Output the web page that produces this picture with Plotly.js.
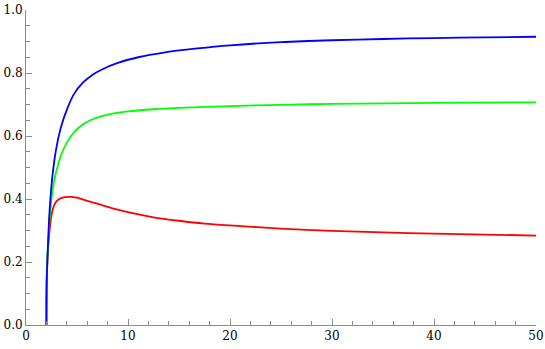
<!DOCTYPE html>
<html>
<head>
<meta charset="utf-8">
<script src="https://cdn.plot.ly/plotly-3.0.1.min.js"></script>
<style>
  html, body { margin: 0; padding: 0; background: white; }
  #chart { width: 545px; height: 349px; }
</style>
</head>
<body>
<div id="chart"></div>
<script>
/* values */
const BLUE_X  = [2, 2.03, 2.15, 2.3, 2.55, 2.94, 3.4, 4.0, 4.7, 5.6, 6.5, 7.5, 9, 11, 13.5, 16.8, 20, 25, 30, 35, 40, 45, 50];
const BLUE_Y  = [0, 0.14, 0.25, 0.356, 0.46, 0.556, 0.625, 0.683, 0.733, 0.770, 0.794, 0.812, 0.832, 0.850, 0.865, 0.878, 0.888, 0.898, 0.904, 0.908, 0.911, 0.913, 0.915];

const GREEN_X = [2, 2.03, 2.15, 2.3, 2.5, 2.75, 3.2, 3.7, 4.7, 5.5, 6.3, 7.5, 8.5, 10, 12.5, 15, 20, 25, 30, 40, 50];
const GREEN_Y = [0, 0.14, 0.245, 0.33, 0.40, 0.455, 0.515, 0.560, 0.612, 0.635, 0.650, 0.664, 0.671, 0.678, 0.685, 0.689, 0.695, 0.699, 0.702, 0.705, 0.707];

const RED_X   = [2, 2.03, 2.1, 2.2, 2.38, 2.6, 2.9, 3.3, 3.8, 4.3, 5, 6, 7, 8, 10, 12.5, 15, 17.5, 20, 25, 30, 35, 40, 45, 50];
const RED_Y   = [0, 0.14, 0.205, 0.26, 0.32, 0.365, 0.389, 0.401, 0.406, 0.407, 0.404, 0.394, 0.385, 0.375, 0.358, 0.342, 0.331, 0.322, 0.316, 0.306, 0.299, 0.294, 0.290, 0.287, 0.284];

const X_TICKS = [0, 10, 20, 30, 40, 50];
const Y_TICKS = [0, 0.2, 0.4, 0.6, 0.8, 1.0];

const AXIS_GRAY = '#8c8c8c';
const SERIF = 'DejaVu Serif';   // Liberation Serif does not resolve here
const TICK_FONT = { family: SERIF, size: 12, color: '#000' };

function curve(x, y, color) {
  return {
    type: 'scatter', mode: 'lines', x, y,
    line: { color, width: 1.8, shape: 'spline', smoothing: 0.8 },
    hoverinfo: 'skip', showlegend: false,
  };
}

const traces = [
  curve(RED_X, RED_Y, '#ff0000'),
  curve(GREEN_X, GREEN_Y, '#00ff00'),
  curve(BLUE_X, BLUE_Y, '#0000ff'),
];

const axisBase = {
  showgrid: false, zeroline: false,
  showline: true, linecolor: AXIS_GRAY, linewidth: 1,
  ticks: 'inside', tickcolor: AXIS_GRAY, ticklen: 6, tickwidth: 1,
  tickfont: TICK_FONT, fixedrange: true,
};

const layout = {
  width: 545, height: 349,
  paper_bgcolor: 'white', plot_bgcolor: 'white',
  font: { family: SERIF },
  margin: { l: 26, r: 9, t: 10, b: 24 },
  showlegend: false,
  xaxis: {
    ...axisBase, range: [0, 50],
    tickvals: X_TICKS, ticktext: X_TICKS.map(String),
    minor: { ticks: 'inside', dtick: 2, ticklen: 4, tickcolor: AXIS_GRAY, tickwidth: 1 },
  },
  yaxis: {
    ...axisBase, range: [0, 1],
    tickvals: Y_TICKS, ticktext: Y_TICKS.map(v => v.toFixed(1)),
    minor: { ticks: 'inside', dtick: 0.05, ticklen: 4, tickcolor: AXIS_GRAY, tickwidth: 1 },
  },
};

Plotly.newPlot('chart', traces, layout, { displayModeBar: false, staticPlot: true });
</script>
</body>
</html>
